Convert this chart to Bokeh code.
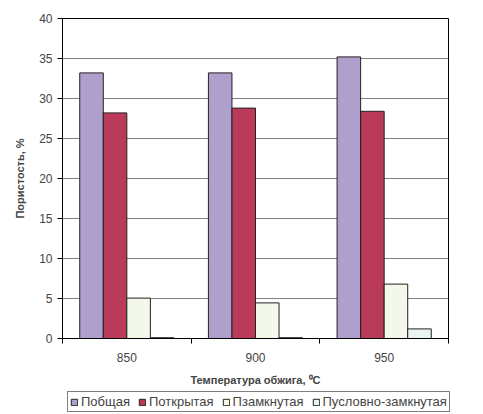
from bokeh.plotting import figure
from bokeh.layouts import column
from bokeh.models import Range1d, FixedTicker, Legend, LegendItem, ColumnDataSource
from bokeh.embed import file_html
from bokeh.resources import INLINE

categories = ["850", "900", "950"]
series_names = ["Побщая", "Поткрытая", "Пзамкнутая", "Пусловно-замкнутая"]
obshaya = [33.2, 33.2, 35.2]
otkrytaya = [28.2, 28.8, 28.4]
zamknutaya = [5.05, 4.45, 6.8]
uslovno = [0.1, 0.1, 1.2]
colors = ["#ae9fcc", "#b93a59", "#f3f8ea", "#eaf4f2"]
y_ticks = [0, 5, 10, 15, 20, 25, 30, 35, 40]

FONT = "Liberation Sans"
p = figure(frame_width=386, frame_height=320, output_backend="svg", toolbar_location=None,
           x_range=Range1d(0, len(categories)), y_range=Range1d(0, 40),
           min_border_left=62, min_border_right=27, min_border_top=18, min_border_bottom=0)
p.outline_line_color = "black"
p.outline_line_width = 1
p.background_fill_color = "white"
p.border_fill_color = "white"

bw = 0.183
all_series = [obshaya, otkrytaya, zamknutaya, uslovno]
for k, (vals, col) in enumerate(zip(all_series, colors)):
    xs = [i + 0.5 + (k - 1.5) * bw for i in range(len(categories))]
    src = ColumnDataSource(dict(x=xs, top=vals))
    p.vbar(x="x", top="top", width=bw, bottom=0, source=src, fill_color=col,
           line_color="#222222", line_width=1)

# axes
p.xaxis.ticker = FixedTicker(ticks=[i + 0.5 for i in range(len(categories))],
                             minor_ticks=list(range(len(categories) + 1)))
p.xaxis.major_label_overrides = {i + 0.5: c for i, c in enumerate(categories)}
p.xaxis.major_tick_line_color = None
p.xaxis.minor_tick_line_color = "black"
p.xaxis.minor_tick_out = 5
p.xaxis.minor_tick_in = 0
p.xaxis.axis_line_color = "black"
p.xaxis.major_label_text_font = FONT
p.xaxis.major_label_text_font_size = "12px"
p.xaxis.major_label_standoff = 8
p.xaxis.axis_label = "Температура обжига, ⁰C"
p.xaxis.axis_label_text_font = FONT
p.xaxis.axis_label_text_font_style = "bold"
p.xaxis.axis_label_text_font_size = "11px"
p.xaxis.axis_label_standoff = 9

p.yaxis.ticker = FixedTicker(ticks=y_ticks, minor_ticks=[])
p.yaxis.major_tick_out = 5
p.yaxis.major_tick_in = 0
p.yaxis.major_tick_line_color = "black"
p.yaxis.axis_line_color = "black"
p.yaxis.major_label_text_font = FONT
p.yaxis.major_label_text_font_size = "12px"
p.yaxis.major_label_standoff = 5
p.yaxis.axis_label = "Пористость, %"
p.yaxis.axis_label_text_font = FONT
p.yaxis.axis_label_text_font_style = "bold"
p.yaxis.axis_label_text_font_size = "11px"
p.yaxis.axis_label_standoff = 10

p.xgrid.grid_line_color = None
p.ygrid.grid_line_color = "#808080"
p.ygrid.grid_line_width = 1

# legend strip below the chart
p2 = figure(width=483, height=26, output_backend="svg", toolbar_location=None,
            x_range=Range1d(0, 1), y_range=Range1d(0, 1),
            x_axis_location=None, y_axis_location=None,
            min_border_left=62, min_border_right=0, min_border_top=0, min_border_bottom=0)
p2.outline_line_color = None
p2.grid.grid_line_color = None
p2.background_fill_color = "white"
p2.border_fill_color = "white"
leg_renderers = []
for k, (vals, col) in enumerate(zip(all_series, colors)):
    r = p2.vbar(x=[0.5], top=[vals[0]], width=0.1, bottom=0, fill_color=col,
                line_color="#222222", line_width=1, visible=False)
    leg_renderers.append(r)

legend = Legend(items=[LegendItem(label=n, renderers=[r]) for n, r in zip(series_names, leg_renderers)],
                orientation="horizontal", location=(5, 2), click_policy="none")
legend.label_text_font = FONT
legend.label_text_font_size = "13px"
legend.glyph_width = 8
legend.glyph_height = 8
legend.spacing = 8
legend.label_standoff = 3
legend.padding = 2
legend.margin = 0
legend.border_line_color = "black"
legend.border_line_width = 1
legend.background_fill_alpha = 1
legend.label_height = 14
p2.add_layout(legend, "center")

layout = column(p, p2, spacing=0)
open("out.html", "w").write(file_html(layout, INLINE))
